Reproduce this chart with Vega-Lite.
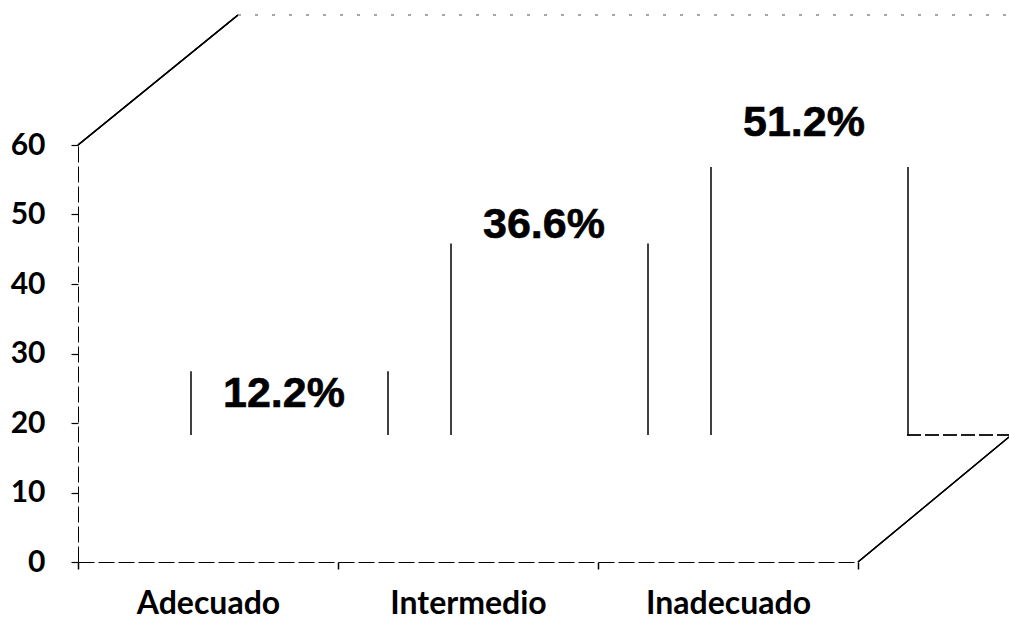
{
  "$schema": "https://vega.github.io/schema/vega-lite/v6.json",
  "width": 780,
  "height": 417,
  "autosize": {"type": "none"},
  "padding": {"left": 78, "top": 145, "right": 151, "bottom": 59},
  "background": "white",
  "config": {"view": {"stroke": null}},
  "data": {
    "values": [
      {"nivel": "Adecuado", "porcentaje": 12.2, "etiqueta": "12.2%"},
      {"nivel": "Intermedio", "porcentaje": 36.6, "etiqueta": "36.6%"},
      {"nivel": "Inadecuado", "porcentaje": 51.2, "etiqueta": "51.2%"}
    ]
  },
  "resolve": {"scale": {"y": "independent"}, "axis": {"y": "independent"}},
  "layer": [
    {
      "layer": [
        {
          "mark": {"type": "text", "font": "Liberation Sans", "fontWeight": "bold", "fontSize": 43, "align": "center", "baseline": "middle", "xOffset": 76, "yOffset": -83, "color": "#000", "stroke": "#000", "strokeWidth": 0.6},
          "encoding": {
            "x": {
              "field": "nivel", "type": "nominal", "sort": null,
              "scale": {"paddingInner": 0, "paddingOuter": 0},
              "axis": {
                "title": null, "labelAngle": 0, "tickBand": "extent", "grid": false,
                "domainColor": "#000", "domainDash": [16, 4], "domainWidth": 1.2,
                "tickColor": "#000", "tickSize": 7, "tickWidth": 1.5,
                "labelFont": "Lato", "labelFontWeight": "bold", "labelFontSize": 32,
                "labelColor": "#000", "labelPadding": 19
              }
            },
            "y": {
              "field": "porcentaje", "type": "quantitative",
              "scale": {"domain": [0, 60], "nice": false, "zero": true},
              "axis": {
                "title": null, "values": [0, 10, 20, 30, 40, 50, 60], "grid": false,
                "domainColor": "#000", "domainDash": [16, 4], "domainWidth": 1,
                "tickColor": "#000", "tickSize": 7, "tickWidth": 1.2,
                "labelFont": "Lato", "labelFontWeight": "bold", "labelFontSize": 30,
                "labelColor": "#000", "labelPadding": 26
              }
            },
            "text": {"field": "etiqueta"}
          }
        },
        {
          "mark": {"type": "rule", "color": "#000", "strokeWidth": 1.4, "xOffset": -130, "x2Offset": 30, "y2Offset": -130},
          "encoding": {
            "x": {"datum": "Adecuado"},
            "x2": {"datum": "Adecuado"},
            "y": {"datum": 60},
            "y2": {"datum": 60}
          }
        },
        {
          "mark": {"type": "rule", "color": "#000", "strokeWidth": 1.2, "xOffset": 130, "x2Offset": 281, "y2Offset": -125},
          "encoding": {
            "x": {"datum": "Inadecuado"},
            "x2": {"datum": "Inadecuado"},
            "y": {"datum": 0},
            "y2": {"datum": 0}
          }
        },
        {
          "mark": {"type": "rule", "color": "#000", "strokeWidth": 1.2, "strokeDash": [14, 4], "xOffset": 179, "x2Offset": 290, "yOffset": -127},
          "encoding": {
            "x": {"datum": "Inadecuado"},
            "x2": {"datum": "Inadecuado"},
            "y": {"datum": 0}
          }
        },
        {
          "mark": {"type": "rule", "color": "#999", "strokeWidth": 1, "strokeDash": [3, 14], "xOffset": 30, "x2Offset": 290, "yOffset": -130},
          "encoding": {
            "x": {"datum": "Adecuado"},
            "x2": {"datum": "Inadecuado"},
            "y": {"datum": 60}
          }
        }
      ]
    },
    {
      "layer": [
        {
          "mark": {"type": "rule", "color": "#000", "strokeWidth": 1.5, "xOffset": -17},
          "encoding": {
            "x": {"field": "nivel", "type": "nominal", "sort": null},
            "y": {"field": "porcentaje", "type": "quantitative", "scale": {"domain": [-24.26, 55.41], "nice": false, "zero": false}, "axis": null},
            "y2": {"datum": 0}
          }
        },
        {
          "mark": {"type": "rule", "color": "#000", "strokeWidth": 1.5, "xOffset": 180},
          "encoding": {
            "x": {"field": "nivel", "type": "nominal", "sort": null},
            "y": {"field": "porcentaje", "type": "quantitative", "scale": {"domain": [-24.26, 55.41], "nice": false, "zero": false}, "axis": null},
            "y2": {"datum": 0}
          }
        }
      ]
    }
  ]
}
